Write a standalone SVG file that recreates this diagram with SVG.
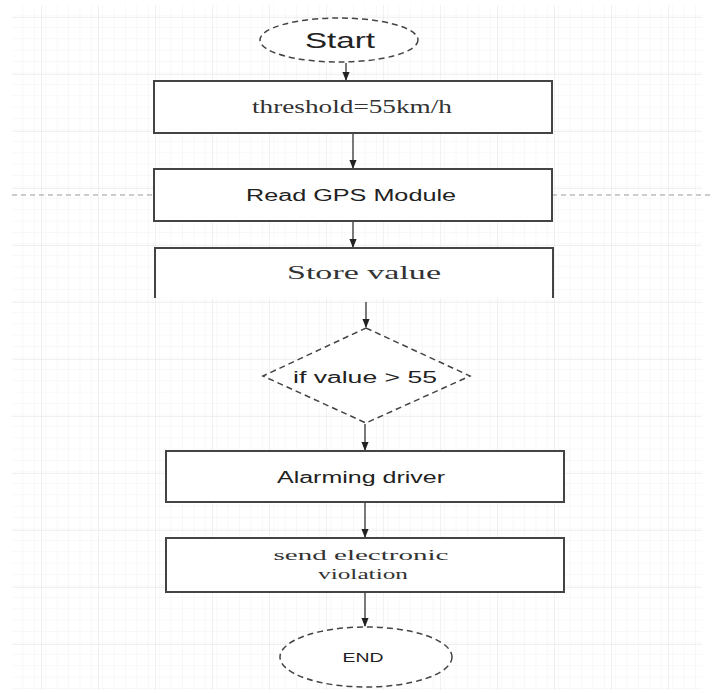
<svg xmlns="http://www.w3.org/2000/svg" width="713" height="693" viewBox="0 0 713 693">
<defs>
<pattern id="minor" x="12" y="5" width="11.4" height="11.4" patternUnits="userSpaceOnUse">
<path d="M11.4 0V11.4M0 11.4H11.4" fill="none" stroke="#f1f1f1" stroke-width="1"/>
</pattern>
<pattern id="major" x="-15" y="-39" width="57" height="57" patternUnits="userSpaceOnUse">
<path d="M57 0V57M0 57H57" fill="none" stroke="#e2e2e2" stroke-width="1"/>
</pattern>
<marker id="arr" viewBox="0 0 10 10" refX="9" refY="5" markerWidth="7" markerHeight="7" orient="auto">
<path d="M0 1L10 5L0 9Z" fill="#222"/>
</marker>
<style>
.box{fill:#fff;stroke:#444;stroke-width:2}
.dash{fill:#fff;stroke:#444;stroke-width:1.5;stroke-dasharray:6 4}
.edge{fill:none;stroke:#333;stroke-width:1.3;marker-end:url(#arr)}
.sans{font-family:"Liberation Sans",Arial,sans-serif;fill:#222;text-anchor:middle}
.serif{font-family:"Liberation Serif","Times New Roman",serif;fill:#333;text-anchor:middle}
</style>
</defs>
<rect width="713" height="693" fill="#fff"/>
<rect x="12" y="5" width="690" height="685" fill="url(#minor)"/>
<rect x="12" y="5" width="690" height="685" fill="url(#major)"/>
<line x1="12" y1="195" x2="713" y2="195" stroke="#999" stroke-width="1" stroke-dasharray="5 4"/>

<g id="connectors">
<line class="edge" x1="346" y1="63" x2="346" y2="80"/>
<line class="edge" x1="353" y1="134" x2="353" y2="168"/>
<line class="edge" x1="353" y1="222" x2="353" y2="247"/>
<line class="edge" x1="366" y1="302" x2="366" y2="327"/>
<line class="edge" x1="365" y1="424" x2="365" y2="450"/>
<line class="edge" x1="365" y1="503" x2="365" y2="537"/>
<line class="edge" x1="365" y1="593" x2="365" y2="626"/>
</g>

<g id="start">
<ellipse class="dash" cx="339" cy="40" rx="79" ry="22"/>
<text class="sans" x="340" y="48" font-size="22" textLength="70" lengthAdjust="spacingAndGlyphs">Start</text>
</g>
<g id="threshold">
<rect class="box" x="154" y="81" width="398" height="52"/>
<text class="serif" x="352" y="113" font-size="18" textLength="200" lengthAdjust="spacingAndGlyphs">threshold=55km/h</text>
</g>
<g id="read">
<rect class="box" x="154" y="169" width="398" height="52"/>
<text class="sans" x="351" y="201" font-size="16" textLength="210" lengthAdjust="spacingAndGlyphs">Read GPS Module</text>
</g>
<g id="store">
<rect x="155" y="248" width="398" height="50" fill="#fff"/>
<path d="M155 298V248H553V298" fill="none" stroke="#444" stroke-width="2"/>
<text class="serif" x="364" y="279" font-size="18" textLength="154" lengthAdjust="spacingAndGlyphs">Store value</text>
</g>
<g id="decision">
<polygon class="dash" points="366,328 470,376 366,423 263,376"/>
<text class="sans" x="365" y="383" font-size="16" textLength="144" lengthAdjust="spacingAndGlyphs">if value &gt;  55</text>
</g>
<g id="alarm">
<rect class="box" x="166" y="451" width="398" height="51"/>
<text class="sans" x="361" y="483" font-size="16" textLength="168" lengthAdjust="spacingAndGlyphs">Alarming driver</text>
</g>
<g id="send">
<rect class="box" x="166" y="538" width="398" height="54"/>
<text class="serif" x="361" y="560" font-size="15" textLength="175" lengthAdjust="spacingAndGlyphs">send electronic</text>
<text class="serif" x="363" y="579" font-size="15" textLength="90" lengthAdjust="spacingAndGlyphs">violation</text>
</g>
<g id="end">
<ellipse class="dash" cx="366" cy="657" rx="86" ry="30"/>
<text class="sans" x="363" y="662" font-size="13" textLength="41" lengthAdjust="spacingAndGlyphs">END</text>
</g>
</svg>
